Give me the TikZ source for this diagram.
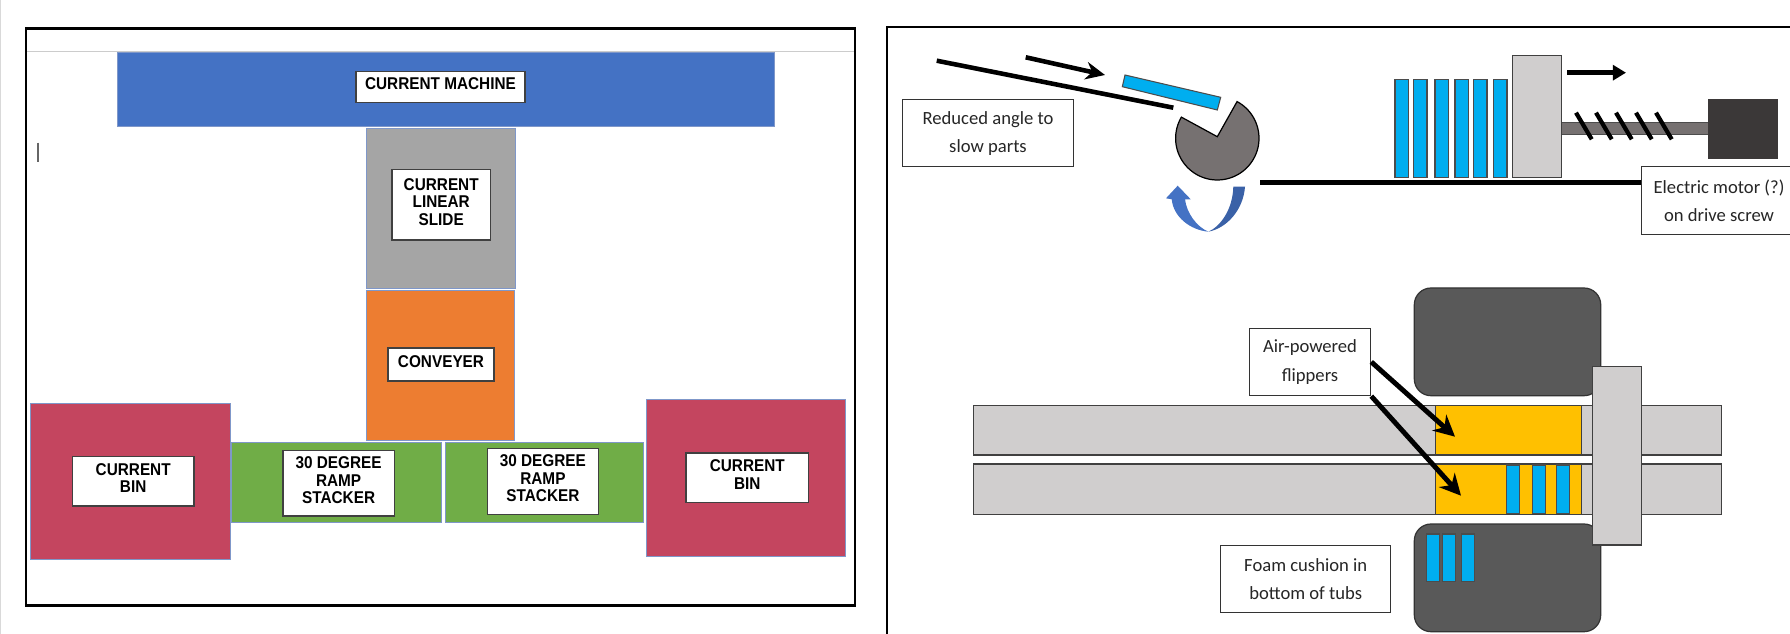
\documentclass[tikz,border=0pt]{standalone}
\usepackage{fontspec}
\setmainfont{Carlito}
\newfontfamily\armfont[FakeStretch=0.9]{Liberation Sans}
\usetikzlibrary{arrows.meta}
\definecolor{machineblue}{HTML}{4472C4}
\definecolor{slidegray}{HTML}{A5A5A5}
\definecolor{conveyorange}{HTML}{ED7D31}
\definecolor{rampgreen}{HTML}{70AD47}
\definecolor{binred}{HTML}{C4455F}
\definecolor{blockedge}{HTML}{7F97C9}
\definecolor{partblue}{HTML}{00AEEF}
\definecolor{railgray}{HTML}{D0CECE}
\definecolor{camgray}{HTML}{767171}
\definecolor{motordark}{HTML}{3B3838}
\definecolor{tubgray}{HTML}{595959}
\definecolor{flipyellow}{HTML}{FFC000}
\tikzset{
  blocktag/.style={draw=black!75, fill=white, line width=0.75pt, inner sep=0pt, align=center,
    text depth=3.5pt, font=\armfont\bfseries\fontsize{9.7}{10}\selectfont},
  notebox/.style={draw=black!80, fill=white, line width=0.6pt, inner sep=0pt, align=center,
    minimum height=1.35cm, font=\fontsize{10.6}{16.1}\selectfont, text=black!85},
  block/.style={draw=blockedge, line width=0.45pt},
  frameline/.style={draw=black, line width=1.2pt},
  partbar/.style={fill=partblue, draw=black!70, line width=0.6pt},
  railbar/.style={fill=railgray, draw=black!75, line width=0.6pt},
  tubbox/.style={fill=tubgray, draw=black!80, line width=0.7pt, rounded corners=9.5pt},
  heavyline/.style={line width=2.6pt, black},
  pointer/.style={line width=2.6pt, black, -{Stealth[length=11pt,width=10pt]}},
  flippointer/.style={line width=2.8pt, black, -{Stealth[length=12pt,width=12pt]}}
}
\begin{document}
\begin{tikzpicture}[x=0.02cm,y=-0.02cm]
  \useasboundingbox (0,0) rectangle (1790,634);
  \draw[black!15, line width=0.8pt] (0.7,0) -- (0.7,634);

  % Left layout
  \draw[black!20, line width=0.6pt] (26,51.7) -- (855,51.7);
  \draw[frameline] (26,28.5) rectangle (855,605.5);
  \draw[black!60, line width=0.6pt] (38,142.7) -- (38,161.7);
  \filldraw[block, fill=machineblue] (117,52.7) rectangle (774,126);
  \filldraw[block, fill=slidegray] (366,128.3) rectangle (515,288.3);
  \filldraw[block, fill=conveyorange] (366,290.7) rectangle (514.6,440);
  \filldraw[block, fill=binred] (30.3,403.3) rectangle (230,559.3);
  \filldraw[block, fill=binred] (646.5,399.3) rectangle (845.7,556);
  \filldraw[block, fill=rampgreen] (231,442.7) rectangle (441,522.3);
  \filldraw[block, fill=rampgreen] (445,442.7) rectangle (643.7,522.3);
  \node[blocktag, minimum width=3.38cm, minimum height=0.61cm] (machinetag) at (440.5,87) {CURRENT MACHINE};
  \node[blocktag, minimum width=1.97cm, minimum height=1.41cm] (slidetag) at (441.2,204.7) {CURRENT\\LINEAR\\SLIDE};
  \node[blocktag, minimum width=2.12cm, minimum height=0.66cm] (conveyertag) at (441,364.5) {CONVEYER};
  \node[blocktag, minimum width=2.43cm, minimum height=0.99cm] (binlefttag) at (133.2,481.3) {CURRENT\\BIN};
  \node[blocktag, minimum width=2.45cm, minimum height=0.99cm] (binrighttag) at (747.3,477.7) {CURRENT\\BIN};
  \node[blocktag, minimum width=2.23cm, minimum height=1.31cm] (ramplefttag) at (338.6,483.2) {30 DEGREE\\RAMP\\STACKER};
  \node[blocktag, minimum width=2.23cm, minimum height=1.31cm] (ramprighttag) at (542.9,481.5) {30 DEGREE\\RAMP\\STACKER};

  % Right frame runs off the page
  \draw[frameline] (886.7,650) -- (886.7,26.7) -- (1810,26.7);

  % Ramp, part and cam
  \draw[heavyline] (936.7,60.7) -- (1173.3,107.7);
  \coordinate (slidefrom) at (1025.7,57.3);
  \coordinate (slideto) at (1105,75);
  \draw[pointer] (slidefrom) -- (slideto);
  \filldraw[partbar] (1125,75) -- (1220.7,97.3) -- (1217.3,110) -- (1122.3,86.7) -- cycle;
  \filldraw[fill=camgray, draw=black, line width=0.7pt] (1217.3,136.7) --
    plot[domain=61.7:-210.5, samples=70] ({1217.3+41.7*cos(\x)},{138.3-41.7*sin(\x)}) -- cycle;
  \fill[machineblue!85!black] (1245,186.7) .. controls (1243.3,210) and (1226.7,228.3) .. (1208.3,231.7)
    .. controls (1220,226.7) and (1232.7,210) .. (1233.3,186.7) -- cycle;
  \fill[machineblue] (1208.3,231.7) .. controls (1190,230) and (1173.3,216.7) .. (1171.7,199.3)
    -- (1166,198.3) -- (1177.7,185.7) -- (1190.7,199.3) -- (1185,199.3)
    .. controls (1186.7,213.3) and (1196.7,226.7) .. (1208.3,231.7) -- cycle;
  \draw[line width=2.9pt] (1260,182.7) -- (1645,182.7);

  % Stack, pusher and drive screw
  \foreach \x in {1395,1413.7,1435,1455,1473.7,1493.7}
    \filldraw[partbar] (\x,79.3) rectangle ++(13.3,98);
  \filldraw[fill=camgray, draw=black!70, line width=0.5pt] (1561.7,122) rectangle (1708.3,134);
  \filldraw[fill=railgray, draw=black!75, line width=0.7pt] (1512.3,55.7) rectangle (1561.7,177.3);
  \foreach \x in {1576,1596,1616,1636,1656}
    \draw[black, line width=2.4pt] (\x,112.7) -- ++(15.7,26.6);
  \fill[motordark] (1708.3,99.3) rectangle (1777.7,158.7);
  \coordinate (pushfrom) at (1567.3,72.7);
  \coordinate (pushto) at (1626,72.7);
  \draw[line width=2.6pt, -{Triangle[length=7.5pt,width=8.5pt]}] (pushfrom) -- (pushto);

  \node[notebox, minimum width=3.43cm] (anglenote) at (988,133.2) {Reduced angle to\\slow parts};
  \node[notebox, minimum width=3.09cm] (motornote) at (1719,200.7) {Electric motor (?)\\on drive screw};

  % Rails, flippers and tubs
  \filldraw[tubbox] (1414.3,288) rectangle (1600.7,395.7);
  \filldraw[tubbox] (1414.3,524) rectangle (1600.7,631.7);
  \foreach \x in {1426.3,1442.7,1461.3}
    \filldraw[partbar] (\x,534) rectangle ++(13.2,47.3);
  \filldraw[railbar] (973.3,405.7) rectangle (1721.3,455);
  \filldraw[railbar] (973.3,464) rectangle (1721.3,514.3);
  \filldraw[fill=flipyellow, draw=black!75, line width=0.6pt] (1435.3,405.7) rectangle (1581.3,455);
  \filldraw[fill=flipyellow, draw=black!75, line width=0.6pt] (1435.3,464) rectangle (1581.3,514.3);
  \foreach \x in {1506.7,1532.7,1556.3}
    \filldraw[partbar] (\x,465) rectangle ++(12.8,48.3);
  \filldraw[railbar] (1592.7,366.7) rectangle (1641.7,545);

  \node[notebox, minimum width=2.43cm] (flippernote) at (1310,361.9) {Air-powered\\flippers};
  \node[notebox, minimum width=3.4cm] (foamnote) at (1305.7,578.9) {Foam cushion in\\bottom of tubs};
  \coordinate (upperflip) at (1455,436.7);
  \coordinate (lowerflip) at (1461,495.7);
  \draw[flippointer] (flippernote.east) -- (upperflip);
  \draw[flippointer] (flippernote.south east) -- (lowerflip);
\end{tikzpicture}
\end{document}
